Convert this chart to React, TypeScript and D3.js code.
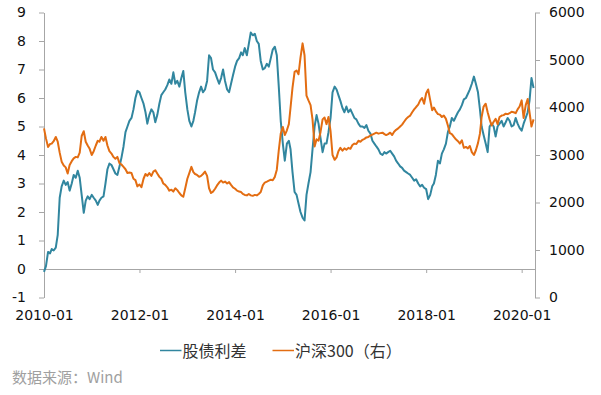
import React, { useEffect, useRef } from "react";
import * as d3 from "d3";

// half-month grid: 2010-01-01, 2010-01-16, 2010-02-01, ... up to 2020-04-01
const startYear = 2010;
const pointCount = 247;
const dates: Date[] = d3
  .range(pointCount)
  .map((k) => new Date(startYear, Math.floor(k / 2), k % 2 ? 16 : 1));

// 股债利差 (left axis)
const spread = [
  -0.1, 0.1, 0.6, 0.55, 0.7, 0.65, 0.75, 1.2, 2.5, 2.9, 3.1, 2.95, 3.05, 2.75, 3.0, 3.3, 3.2, 3.45, 3.2, 2.6, 1.97, 2.4, 2.55, 2.45,
  2.6, 2.5, 2.4, 2.25, 2.4, 2.5, 2.55, 3.0, 3.5, 3.7, 3.65, 3.5, 3.35, 3.3, 3.6, 3.9, 4.3, 4.8, 5.0, 5.2, 5.3, 5.6, 6.0, 6.25,
  6.2, 6.0, 5.8, 5.5, 5.1, 5.4, 5.6, 5.5, 5.15, 5.4, 5.8, 6.1, 6.2, 6.3, 6.45, 6.65, 6.5, 6.9, 6.5, 6.6, 6.4, 6.7, 6.95, 6.2,
  5.6, 5.2, 5.0, 5.2, 5.5, 5.9, 6.2, 6.4, 6.2, 6.3, 6.6, 7.5, 7.4, 7.0, 6.9, 6.7, 6.5, 6.7, 7.0, 6.6, 6.3, 6.2, 6.5, 6.8,
  7.1, 7.3, 7.4, 7.6, 7.5, 7.75, 7.5, 7.9, 8.3, 8.2, 8.25, 8.0, 7.9, 7.3, 7.0, 7.05, 7.2, 7.1, 7.4, 7.7, 7.8, 7.5, 6.4, 5.2,
  4.4, 3.8, 4.4, 4.5, 4.2, 3.4, 2.7, 2.6, 2.3, 2.0, 1.8, 1.7, 2.6, 3.0, 3.4, 4.2, 5.0, 5.4, 5.1, 4.6, 4.1, 4.4, 4.4, 4.8,
  5.3, 6.2, 6.4, 6.3, 6.1, 5.9, 5.65, 5.5, 5.7, 5.5, 5.6, 5.45, 5.3, 5.25, 5.1, 5.0, 5.0, 4.95, 5.05, 4.85, 4.75, 4.5, 4.4, 4.3,
  4.2, 4.05, 4.0, 4.1, 4.05, 4.1, 4.15, 4.05, 3.95, 3.8, 3.7, 3.6, 3.55, 3.45, 3.4, 3.35, 3.3, 3.2, 3.1, 3.15, 3.0, 2.9, 2.95, 2.85,
  2.8, 2.45, 2.6, 2.9, 3.0, 3.3, 3.8, 3.7, 4.05, 4.2, 4.4, 4.8, 5.0, 5.3, 5.2, 5.35, 5.5, 5.6, 5.75, 5.95, 6.0, 6.15, 6.3, 6.5,
  6.75, 6.5, 6.2, 5.6, 5.0, 4.7, 4.4, 4.1, 5.0, 5.1, 5.0, 4.65, 5.0, 5.1, 5.2, 5.0, 5.15, 5.3, 5.2, 5.0, 5.05, 5.3, 5.1, 4.95,
  4.85, 5.1, 5.3, 5.5, 5.9, 6.7, 6.35,
];

// 沪深300 (right axis)
const csi300 = [
  3560, 3350, 3170, 3230, 3240, 3290, 3380, 3280, 3050, 2860, 2780, 2740, 2610, 2790, 2870, 2930, 2960, 2950, 3050, 3400, 3500, 3280, 3200, 3130,
  3000, 3080, 3200, 3300, 3280, 3380, 3300, 3380, 3200, 3080, 3030, 2960, 2920, 2960, 2830, 2800, 2750, 2700, 2620, 2630, 2620, 2500, 2470, 2340,
  2380, 2320, 2500, 2600, 2560, 2620, 2560, 2650, 2680, 2610, 2540, 2500, 2400, 2370, 2320, 2250, 2270, 2230, 2300, 2260, 2200, 2150, 2120, 2300,
  2500, 2620, 2750, 2640, 2600, 2580, 2540, 2560, 2600, 2650, 2560, 2300, 2200, 2230, 2290, 2360, 2420, 2460, 2420, 2440, 2400, 2430, 2370, 2320,
  2290, 2250, 2230, 2220, 2180, 2160, 2150, 2180, 2150, 2140, 2160, 2150, 2180, 2220, 2360, 2420, 2440, 2460, 2480, 2470, 2540, 2690, 3100, 3450,
  3590, 3420, 3520, 3650, 4000, 4420, 4750, 4780, 4700, 5050, 5350, 5100, 4250, 4150, 4050, 3750, 3180, 3330, 3300, 3480, 3750, 3790, 3650, 3800,
  3500, 3000, 2900, 2950, 3080, 3150, 3090, 3140, 3110, 3150, 3130, 3210, 3240, 3230, 3300, 3280, 3320, 3340, 3370, 3380, 3410, 3430, 3450, 3470,
  3450, 3460, 3470, 3440, 3420, 3440, 3470, 3420, 3490, 3530, 3560, 3600, 3640, 3700, 3760, 3800, 3830, 3900, 3960, 4010, 4060, 4150, 4200, 4080,
  4300, 4380, 4150, 3940, 4000, 3920, 3860, 3850, 3800, 3830, 3760, 3620, 3460, 3440, 3380, 3330, 3290, 3240, 3310, 3150, 3170, 3140, 3190, 3060,
  3000, 3100, 3250, 3450, 3800, 4020, 4080, 3900, 3750, 3620, 3700, 3760, 3650, 3800, 3830, 3840, 3870, 3860, 3880, 3910, 3900, 3880, 3960, 4020,
  4150, 3780, 4050, 4180, 3900, 3600, 3750,
];

const leftTicks = [-1, 0, 1, 2, 3, 4, 5, 6, 7, 8, 9];
const rightTicks = [0, 1000, 2000, 3000, 4000, 5000, 6000];
const xTickYears = [2010, 2012, 2014, 2016, 2018, 2020];
const seriesNames = ["股债利差", "沪深300（右）"];
const sourceText = "数据来源：Wind";

const W = 601;
const H = 395;
const TEAL = "#31869f";
const ORANGE = "#e36d12";
const AXIS = "#a6a6a6";

const App = () => {
  const ref = useRef<SVGSVGElement>(null);

  useEffect(() => {
    const svg = d3.select(ref.current);
    svg.selectAll("*").remove();

    const left = 44;
    const right = 535;
    const top = 12.5;
    const bottom = 297.5;

    const x = d3
      .scaleTime()
      .domain([new Date(2010, 0, 1), new Date(2020, 3, 12)])
      .range([left, right]);
    const yL = d3.scaleLinear().domain([-1, 9]).range([bottom, top]);
    const yR = d3.scaleLinear().domain([0, 6000]).range([bottom, top]);

    const plain = (d: any) => String(d);

    const tickFont = (g: any) => {
      g.select(".domain").attr("stroke", AXIS);
      g.selectAll(".tick line").attr("stroke", AXIS);
      g.selectAll(".tick text")
        .attr("fill", "#111")
        .style("font-family", "'DejaVu Sans', sans-serif")
        .style("font-size", "14px");
    };

    svg
      .append("g")
      .attr("transform", `translate(${left},0)`)
      .call(
        d3
          .axisLeft(yL)
          .tickValues(leftTicks)
          .tickFormat(plain)
          .tickSize(5)
          .tickPadding(13)
          .tickSizeOuter(0)
      )
      .call(tickFont);

    svg
      .append("g")
      .attr("transform", `translate(${right},0)`)
      .call(
        d3
          .axisRight(yR)
          .tickValues(rightTicks)
          .tickFormat(plain)
          .tickSize(5)
          .tickPadding(9)
          .tickSizeOuter(0)
      )
      .call(tickFont);

    svg
      .append("g")
      .attr("transform", `translate(0,${yL(0)})`)
      .call(
        d3
          .axisBottom(x)
          .tickValues(xTickYears.map((y) => new Date(y, 0, 1)))
          .tickFormat(d3.timeFormat("%Y-%m") as any)
          .tickSize(4)
          .tickSizeOuter(0)
          .tickPadding(37)
      )
      .call(tickFont);

    const spreadLine = d3
      .line<number>()
      .x((_, i) => x(dates[i]))
      .y((d) => yL(d));
    const csiLine = d3
      .line<number>()
      .x((_, i) => x(dates[i]))
      .y((d) => yR(d));

    svg
      .append("path")
      .datum(spread)
      .attr("d", spreadLine)
      .attr("fill", "none")
      .attr("stroke", TEAL)
      .attr("stroke-width", 2)
      .attr("stroke-linejoin", "round");

    svg
      .append("path")
      .datum(csi300)
      .attr("d", csiLine)
      .attr("fill", "none")
      .attr("stroke", ORANGE)
      .attr("stroke-width", 2)
      .attr("stroke-linejoin", "round");

    // legend
    const legend = [
      { name: seriesNames[0], color: TEAL, x: 160 },
      { name: seriesNames[1], color: ORANGE, x: 272.5 },
    ];
    const lg = svg.append("g");
    legend.forEach((l) => {
      lg.append("line")
        .attr("x1", l.x)
        .attr("x2", l.x + 21.5)
        .attr("y1", 350.5)
        .attr("y2", 350.5)
        .attr("stroke", l.color)
        .attr("stroke-width", 1.5);
      lg.append("text")
        .attr("x", l.x + 22.5)
        .attr("y", 356.5)
        .attr("fill", "#333")
        .style("font-family", "'Noto Sans CJK SC', sans-serif")
        .style("font-size", "16px")
        .text(l.name);
    });

    svg
      .append("text")
      .attr("x", 12)
      .attr("y", 383)
      .attr("fill", "#a0a0a0")
      .style("font-family", "'Noto Sans CJK SC', sans-serif")
      .style("font-size", "15px")
      .text(sourceText);
  }, []);

  return (
    <svg
      ref={ref}
      width={W}
      height={H}
      style={{ position: "absolute", left: 0, top: 0, background: "#fff" }}
    ></svg>
  );
};

export default App;
